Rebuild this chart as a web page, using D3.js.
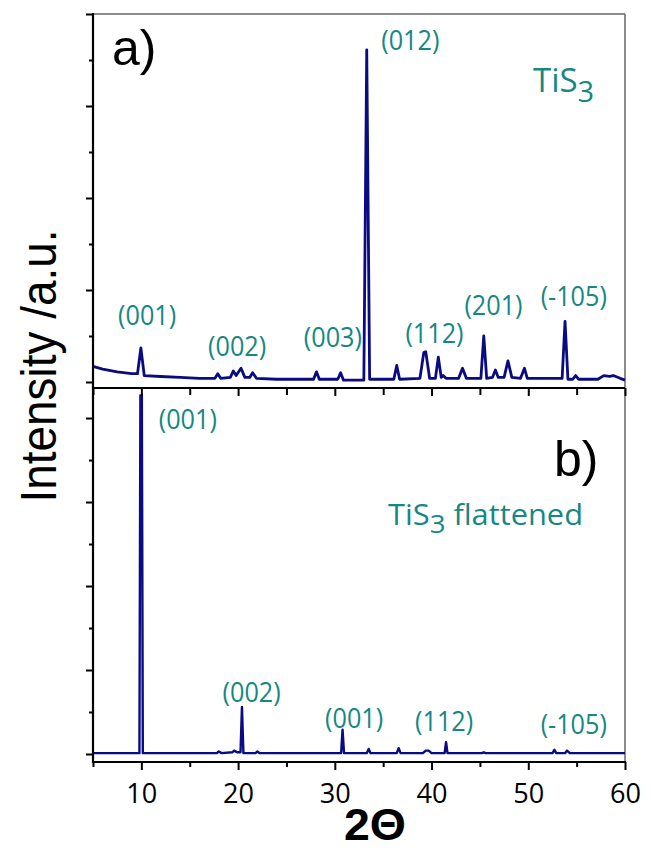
<html>
<head>
  <meta charset="UTF-8">
  <title>TiS3 XRD</title>
  <script src="https://d3js.org/d3.v7.min.js"></script>
  <style>
    body { margin: 0; background: #fff; }
    .lbl { font-family: "Open Sans", sans-serif; fill: #168783; }
  </style>
</head>
<body>
  <svg id="chart" width="651" height="850"></svg>
  <script>
    /* Data */
    // panel a) TiS3 - 2theta and intensity (a.u.)
    const twoThetaA = [5.0, 6.0, 7.5, 9.0, 9.6, 9.95, 10.3, 12, 14, 16, 17.6, 17.9, 18.2, 19.2, 19.5, 19.8, 20.3, 20.7, 21.2, 21.5, 21.9,
      24, 27.8, 28.1, 28.4, 30.3, 30.6, 30.9, 33.0, 33.3, 33.6, 36.1, 36.4, 36.7, 38.8, 39.2, 39.4, 39.8, 40.4, 40.7, 41.0, 41.2, 41.5,
      42.8, 43.2, 43.6, 45.1, 45.4, 45.7, 46.3, 46.6, 46.9, 47.5, 47.9, 48.3, 49.2, 49.6, 49.9, 53.5, 53.8, 54.1, 54.6, 54.9, 55.2,
      57.2, 57.8, 58.4, 58.8, 59.5, 60];
    const intensityA = [0.17, 0.14, 0.11, 0.09, 0.09, 0.37, 0.07, 0.06, 0.05, 0.04, 0.04, 0.09, 0.04, 0.05, 0.12, 0.07, 0.15, 0.05, 0.05, 0.10, 0.04,
      0.03, 0.03, 0.11, 0.03, 0.03, 0.10, 0.02, 0.02, 3.61, 0.03, 0.03, 0.18, 0.03, 0.04, 0.32, 0.33, 0.04, 0.04, 0.27, 0.05, 0.07, 0.04,
      0.04, 0.15, 0.04, 0.04, 0.50, 0.04, 0.05, 0.13, 0.05, 0.05, 0.23, 0.05, 0.04, 0.15, 0.04, 0.04, 0.66, 0.03, 0.03, 0.07, 0.03,
      0.03, 0.07, 0.06, 0.07, 0.04, 0.02];

    // panel b) TiS3 flattened
    const twoThetaB = [5, 9.8, 9.9, 10.05, 10.15, 17.8, 18.0, 18.3, 19.4, 19.6, 19.9, 20.25, 20.4, 20.55, 21.8, 22.0, 22.2,
      30.65, 30.8, 30.95, 33.3, 33.5, 33.7, 36.4, 36.6, 36.8, 39.1, 39.4, 39.7, 40.0, 41.35, 41.5, 41.65, 45.2, 45.4, 45.6,
      52.5, 52.7, 52.9, 53.8, 54.0, 54.3, 60];
    const intensityB = [0.01, 0.01, 4.27, 4.27, 0.01, 0.01, 0.03, 0.01, 0.02, 0.04, 0.02, 0.02, 0.56, 0.01, 0.01, 0.03, 0.01,
      0.01, 0.29, 0.01, 0.01, 0.06, 0.01, 0.01, 0.07, 0.01, 0.01, 0.04, 0.04, 0.01, 0.01, 0.14, 0.01, 0.01, 0.02, 0.01,
      0.01, 0.05, 0.01, 0.01, 0.04, 0.01, 0.01];

    // peak labels
    const peakLabelsA = ["(001)", "(002)", "(003)", "(012)", "(112)", "(201)", "(-105)"];
    const peakLabelsB = ["(001)", "(002)", "(001)", "(112)", "(-105)"];

    // axis ticks
    const xTicksLabelled = [10, 20, 30, 40, 50, 60];
    const xTicksMinor = [5, 15, 25, 35, 45, 55];
    const yTicksMajor = [0, 1, 2, 3, 4];
    const yTicksMinor = [0.5, 1.5, 2.5, 3.5];

    /* Layout */
    const svg = d3.select("#chart");
    const left = 93, right = 625;
    const lineColor = "#0a0a82";

    const x = d3.scaleLinear().domain([5, 60]).range([left, right]);
    const yA = d3.scaleLinear().domain([0, 4]).range([382, 14]);
    const yB = d3.scaleLinear().domain([0, 4.31]).range([754, 392]);
    const axisAy = 388, axisBy = 762;

    // label anchors in data units (2theta, intensity)
    const labelPosA = [[10.6, 0.73], [19.9, 0.39], [29.8, 0.49], [37.8, 3.71], [40.3, 0.53], [46.4, 0.84], [54.7, 0.93]];
    const labelPosB = [[14.8, 3.99], [21.4, 0.74], [32.0, 0.43], [41.3, 0.39], [54.7, 0.35]];

    // frame: top and right in grey
    svg.append("line").attr("x1", left).attr("x2", right).attr("y1", 14).attr("y2", 14)
      .attr("stroke", "#666").attr("stroke-width", 1.5);
    svg.append("line").attr("x1", right).attr("x2", right).attr("y1", 14).attr("y2", axisBy)
      .attr("stroke", "#666").attr("stroke-width", 1.5);

    // spectra
    const dataA = twoThetaA.map((t, i) => [t, intensityA[i]]);
    const dataB = twoThetaB.map((t, i) => [t, intensityB[i]]);

    svg.append("path").datum(dataA)
      .attr("fill", "none").attr("stroke", lineColor).attr("stroke-width", 2.8)
      .attr("stroke-linejoin", "round")
      .attr("d", d3.line().x(d => x(d[0])).y(d => yA(d[1])));

    svg.append("path").datum(dataB)
      .attr("fill", "none").attr("stroke", lineColor).attr("stroke-width", 2.4)
      .attr("stroke-linejoin", "round")
      .attr("d", d3.line().x(d => x(d[0])).y(d => yB(d[1])));

    // left axes (ticks only, line drawn separately)
    function ticksOnly(g) { g.select(".domain").remove(); g.selectAll("line").attr("stroke-width", 2); }

    svg.append("g").attr("transform", `translate(${left},0)`)
      .call(d3.axisLeft(yA).tickValues(yTicksMajor).tickSize(7).tickFormat("")).call(ticksOnly);
    svg.append("g").attr("transform", `translate(${left},0)`)
      .call(d3.axisLeft(yA).tickValues(yTicksMinor).tickSize(4).tickFormat("")).call(ticksOnly);
    svg.append("g").attr("transform", `translate(${left},0)`)
      .call(d3.axisLeft(yB).tickValues(yTicksMajor).tickSize(7).tickFormat("")).call(ticksOnly);
    svg.append("g").attr("transform", `translate(${left},0)`)
      .call(d3.axisLeft(yB).tickValues(yTicksMinor).tickSize(4).tickFormat("")).call(ticksOnly);

    // bottom axes
    svg.append("g").attr("transform", `translate(0,${axisAy})`)
      .call(d3.axisBottom(x).tickValues(xTicksLabelled).tickSize(8).tickFormat("")).call(ticksOnly);
    svg.append("g").attr("transform", `translate(0,${axisAy})`)
      .call(d3.axisBottom(x).tickValues(xTicksMinor).tickSize(7).tickFormat("")).call(ticksOnly);

    let bottomAxis = svg.append("g").attr("transform", `translate(0,${axisBy})`)
      .call(d3.axisBottom(x).tickValues(xTicksLabelled).tickSize(8).tickPadding(13)).call(ticksOnly);
    bottomAxis.selectAll("text")
      .attr("font-family", "'Open Sans', sans-serif").attr("font-size", 28).attr("fill", "#000")
      .attr("textLength", 31).attr("lengthAdjust", "spacingAndGlyphs");
    svg.append("g").attr("transform", `translate(0,${axisBy})`)
      .call(d3.axisBottom(x).tickValues(xTicksMinor).tickSize(5).tickFormat("")).call(ticksOnly);

    // axis lines in black
    svg.append("line").attr("x1", left).attr("x2", left).attr("y1", 13).attr("y2", axisBy + 1)
      .attr("stroke", "#000").attr("stroke-width", 2.2);
    svg.append("line").attr("x1", left).attr("x2", right).attr("y1", axisAy).attr("y2", axisAy)
      .attr("stroke", "#000").attr("stroke-width", 2.2);
    svg.append("line").attr("x1", left).attr("x2", right + 1).attr("y1", axisBy).attr("y2", axisBy)
      .attr("stroke", "#000").attr("stroke-width", 2.2);

    // peak labels, squeezed a little to get a Calibri-like width
    function squeeze(sel) {
      sel.each(function () {
        const w = this.getComputedTextLength();
        d3.select(this).attr("textLength", w * 0.9).attr("lengthAdjust", "spacingAndGlyphs");
      });
    }
    peakLabelsA.forEach((t, i) => {
      svg.append("text").attr("class", "lbl")
        .attr("x", x(labelPosA[i][0])).attr("y", yA(labelPosA[i][1]))
        .attr("dy", "0.35em").attr("text-anchor", "middle").attr("font-size", 28).text(t).call(squeeze);
    });
    peakLabelsB.forEach((t, i) => {
      svg.append("text").attr("class", "lbl")
        .attr("x", x(labelPosB[i][0])).attr("y", yB(labelPosB[i][1]))
        .attr("dy", "0.35em").attr("text-anchor", "middle").attr("font-size", 28).text(t).call(squeeze);
    });

    // sample names
    let tA = svg.append("text").attr("class", "lbl").attr("x", 533).attr("y", 92).attr("font-size", 33);
    tA.append("tspan").text("TiS");
    tA.append("tspan").attr("font-size", 29).attr("dy", 10).text("3");

    let tB = svg.append("text").attr("class", "lbl").attr("x", 388).attr("y", 525).attr("font-size", 29)
      .attr("textLength", 195).attr("lengthAdjust", "spacingAndGlyphs");
    tB.append("tspan").text("TiS");
    tB.append("tspan").attr("font-size", 26).attr("dy", 8).text("3");
    tB.append("tspan").attr("dy", -8).text(" flattened");

    // panel letters
    svg.append("text").attr("x", 112).attr("y", 65)
      .attr("font-family", "'Liberation Sans', Arial, sans-serif").attr("font-size", 50).text("a)");
    svg.append("text").attr("x", 554).attr("y", 476)
      .attr("font-family", "'Liberation Sans', Arial, sans-serif").attr("font-size", 50).text("b)");

    // axis titles
    svg.append("text")
      .attr("transform", "translate(56,366) rotate(-90)")
      .attr("text-anchor", "middle")
      .attr("font-family", "'Liberation Sans', Arial, sans-serif").attr("font-size", 50)
      .attr("textLength", 273).attr("lengthAdjust", "spacingAndGlyphs")
      .text("Intensity /a.u.");

    svg.append("text")
      .attr("x", 375).attr("y", 840)
      .attr("text-anchor", "middle")
      .attr("font-family", "'Liberation Sans', Arial, sans-serif").attr("font-weight", "bold").attr("font-size", 44)
      .attr("textLength", 62).attr("lengthAdjust", "spacingAndGlyphs")
      .text("2Θ");
  </script>
</body>
</html>
